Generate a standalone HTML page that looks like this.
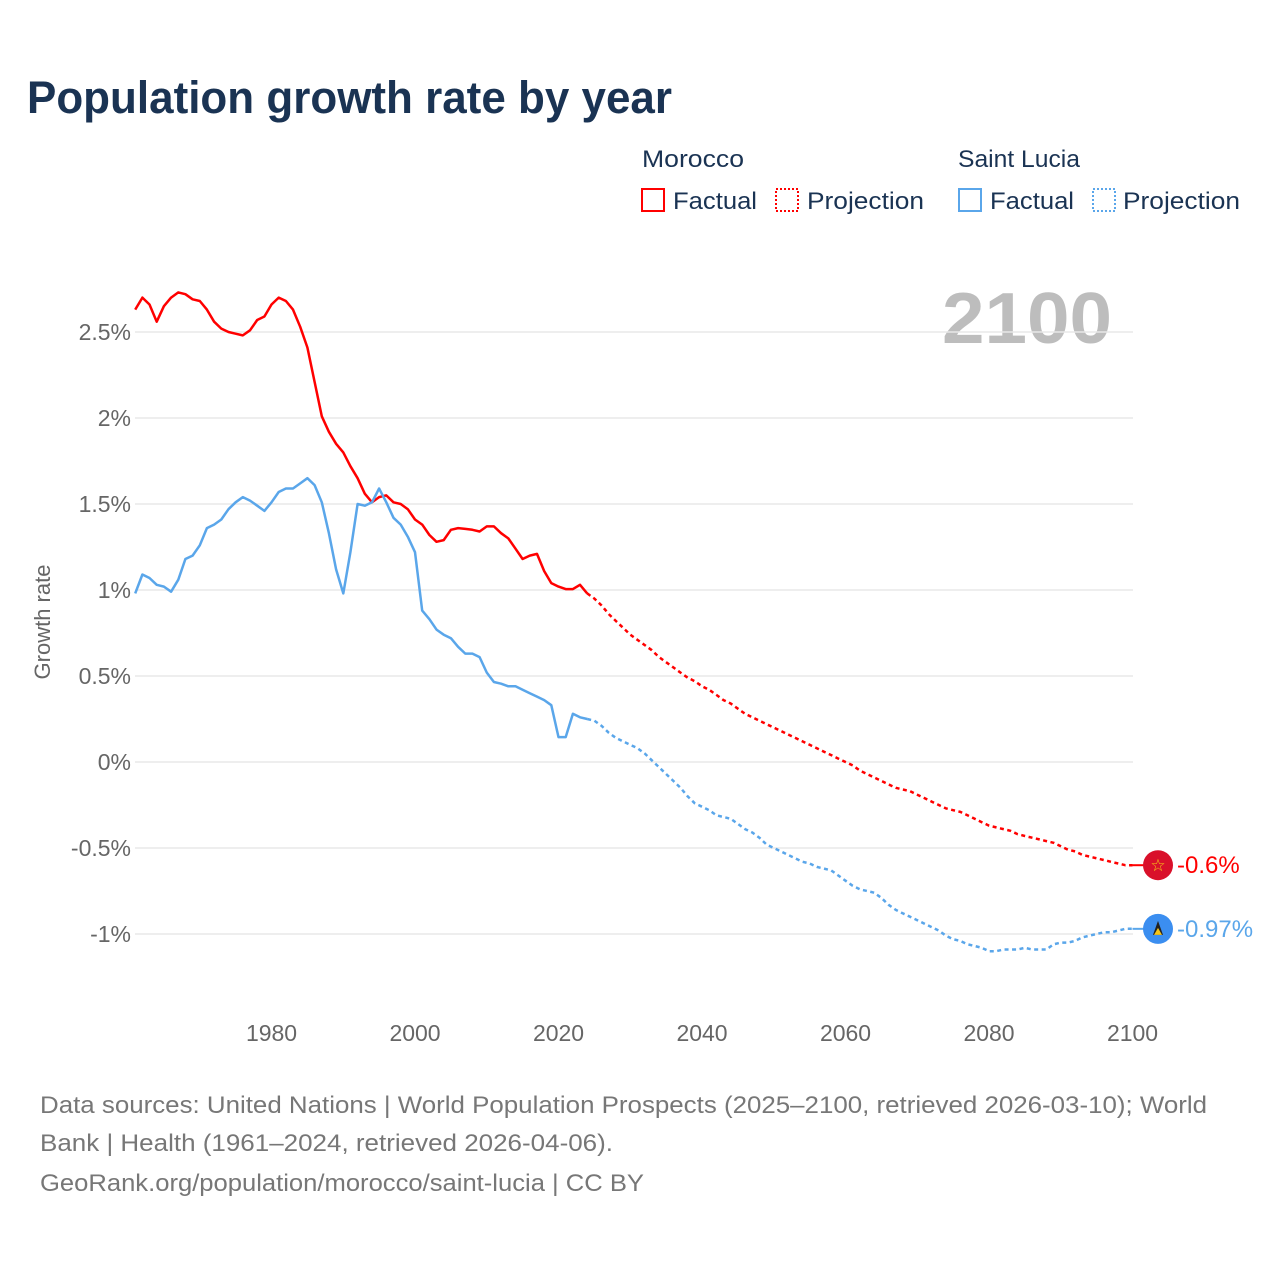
<!DOCTYPE html>
<html><head><meta charset="utf-8"><style>
html,body{margin:0;padding:0;background:#fff;}
svg{display:block;font-family:"Liberation Sans",sans-serif;}
</style></head><body>
<svg id="chart" width="1280" height="1280" viewBox="0 0 1280 1280">
<text x="27" y="113" font-size="45" font-weight="bold" fill="#1a3353" textLength="645" lengthAdjust="spacingAndGlyphs">Population growth rate by year</text>
<g>
<text x="642" y="167" font-size="24" fill="#1a3353" textLength="102" lengthAdjust="spacingAndGlyphs">Morocco</text>
<text x="958" y="167" font-size="24" fill="#1a3353" textLength="122" lengthAdjust="spacingAndGlyphs">Saint Lucia</text>
<g><rect x="642" y="189" width="22" height="22" fill="none" stroke="#f00" stroke-width="2"/><text x="673" y="209" font-size="24" fill="#1a3353" textLength="84" lengthAdjust="spacingAndGlyphs">Factual</text></g>
<g><rect x="776" y="189" width="22" height="22" fill="none" stroke="#f00" stroke-width="2" stroke-dasharray="2,2"/><text x="807" y="209" font-size="24" fill="#1a3353" textLength="117" lengthAdjust="spacingAndGlyphs">Projection</text></g>
<g><rect x="959" y="189" width="22" height="22" fill="none" stroke="#5aa6ea" stroke-width="2"/><text x="990" y="209" font-size="24" fill="#1a3353" textLength="84" lengthAdjust="spacingAndGlyphs">Factual</text></g>
<g><rect x="1093" y="189" width="22" height="22" fill="none" stroke="#5aa6ea" stroke-width="2" stroke-dasharray="2,2"/><text x="1123" y="209" font-size="24" fill="#1a3353" textLength="117" lengthAdjust="spacingAndGlyphs">Projection</text></g>
</g>
<text x="1112" y="343" font-size="72" font-weight="bold" fill="#bdbdbd" text-anchor="end" textLength="170" lengthAdjust="spacingAndGlyphs">2100</text>
<text transform="translate(50,622) rotate(-90)" font-size="22" fill="#666" text-anchor="middle">Growth rate</text>
<g id="grid"></g><g id="yticks"></g><g id="xticks"></g><g id="series"></g>
<g font-size="24" fill="#777">
<text x="40" y="1113" textLength="1167" lengthAdjust="spacingAndGlyphs">Data sources: United Nations | World Population Prospects (2025–2100, retrieved 2026-03-10); World</text>
<text x="40" y="1151" textLength="573" lengthAdjust="spacingAndGlyphs">Bank | Health (1961–2024, retrieved 2026-04-06).</text>
<text x="40" y="1191" textLength="604" lengthAdjust="spacingAndGlyphs">GeoRank.org/population/morocco/saint-lucia | CC BY</text>
</g>
</svg>
<script>
const yTicks=[2.5,2,1.5,1,0.5,0,-0.5,-1];
const yTickLabels=["2.5%","2%","1.5%","1%","0.5%","0%","-0.5%","-1%"];
const xTicks=[1980,2000,2020,2040,2060,2080,2100];
const factualStart=1961;
const projStart=2025;
const moroccoFactual=[2.63,2.70,2.66,2.56,2.65,2.70,2.73,2.72,2.69,2.68,2.63,2.56,2.52,2.50,2.49,2.48,2.51,2.57,2.59,2.66,2.70,2.68,2.63,2.53,2.41,2.21,2.01,1.92,1.85,1.80,1.72,1.65,1.56,1.51,1.54,1.55,1.51,1.50,1.47,1.41,1.38,1.32,1.28,1.29,1.35,1.36,1.355,1.35,1.34,1.37,1.37,1.33,1.30,1.24,1.18,1.20,1.21,1.11,1.04,1.02,1.005,1.005,1.03,0.98];
const moroccoProjection=[0.95,0.91,0.86,0.82,0.78,0.74,0.71,0.68,0.65,0.61,0.58,0.55,0.52,0.49,0.47,0.44,0.42,0.39,0.36,0.34,0.31,0.28,0.26,0.24,0.22,0.20,0.18,0.16,0.14,0.12,0.10,0.08,0.06,0.04,0.02,0.00,-0.02,-0.05,-0.07,-0.09,-0.11,-0.13,-0.15,-0.16,-0.17,-0.19,-0.21,-0.23,-0.25,-0.27,-0.28,-0.29,-0.31,-0.33,-0.35,-0.37,-0.38,-0.39,-0.40,-0.42,-0.43,-0.44,-0.45,-0.46,-0.47,-0.49,-0.51,-0.52,-0.54,-0.55,-0.56,-0.57,-0.58,-0.59,-0.60,-0.60];
const luciaFactual=[0.98,1.09,1.07,1.03,1.02,0.99,1.06,1.18,1.20,1.26,1.36,1.38,1.41,1.47,1.51,1.54,1.52,1.49,1.46,1.51,1.57,1.59,1.59,1.62,1.65,1.61,1.51,1.33,1.12,0.98,1.22,1.50,1.49,1.51,1.59,1.51,1.42,1.38,1.31,1.22,0.88,0.83,0.77,0.74,0.72,0.67,0.63,0.63,0.61,0.52,0.465,0.455,0.44,0.44,0.42,0.40,0.38,0.36,0.33,0.145,0.145,0.28,0.26,0.25];
const luciaProjection=[0.24,0.21,0.17,0.14,0.12,0.10,0.08,0.05,0.01,-0.03,-0.07,-0.11,-0.15,-0.20,-0.24,-0.26,-0.28,-0.31,-0.32,-0.33,-0.36,-0.39,-0.41,-0.44,-0.48,-0.50,-0.52,-0.54,-0.56,-0.58,-0.59,-0.61,-0.62,-0.63,-0.66,-0.69,-0.72,-0.74,-0.75,-0.76,-0.79,-0.83,-0.86,-0.88,-0.90,-0.92,-0.94,-0.96,-0.98,-1.01,-1.03,-1.04,-1.06,-1.07,-1.08,-1.10,-1.10,-1.09,-1.09,-1.09,-1.08,-1.09,-1.09,-1.09,-1.06,-1.05,-1.05,-1.04,-1.02,-1.01,-1.00,-0.99,-0.99,-0.98,-0.97,-0.97];
const endLabels=["-0.6%","-0.97%"];

const NS="http://www.w3.org/2000/svg";
const X=yr=>135.2+(yr-1961)*7.175;
const Y=v=>762-v*172;
function mk(tag,attrs,parent){const e=document.createElementNS(NS,tag);for(const k in attrs)e.setAttribute(k,attrs[k]);parent.appendChild(e);return e;}
const grid=document.getElementById('grid'),yt=document.getElementById('yticks'),xt=document.getElementById('xticks'),ser=document.getElementById('series');
yTicks.forEach((v,i)=>{
  const l=mk('line',{x1:135,x2:1133,y1:Y(v),y2:Y(v),stroke:'#e8e8e8','stroke-width':1.5},grid);
  
  
  const t=mk('text',{x:131,y:Y(v)+8,'font-size':23,fill:'#666','text-anchor':'end'},yt);
  t.textContent=yTickLabels[i];
  
  
});
xTicks.forEach(yr=>{
  const t=mk('text',{x:X(yr),y:1041,'font-size':23,fill:'#666','text-anchor':'middle'},xt);
  t.textContent=yr;
  
  
});
function line(vals,start,color,dash,name,prev){
  let pts=vals.map((v,i)=>X(start+i).toFixed(1)+','+Y(v).toFixed(1));
  if(prev!==undefined)pts.unshift(X(start-1).toFixed(1)+','+Y(prev).toFixed(1));
  const p=mk('polyline',{points:pts.join(' '),fill:'none',stroke:color,'stroke-width':2.5,'stroke-linejoin':'round'},ser);
  if(dash)p.setAttribute('stroke-dasharray','4,3.5');
  
  
}
line(moroccoFactual,factualStart,'#f00',false,'morocco-factual-line');
line(moroccoProjection,projStart,'#f00',true,'morocco-projection-line',moroccoFactual[moroccoFactual.length-1]);
line(luciaFactual,factualStart,'#5aa6ea',false,'saint-lucia-factual-line');
line(luciaProjection,projStart,'#5aa6ea',true,'saint-lucia-projection-line',luciaFactual[luciaFactual.length-1]);
const mEnd=moroccoProjection[moroccoProjection.length-1],lEnd=luciaProjection[luciaProjection.length-1];
const m1=mk('line',{x1:X(2100),x2:1146,y1:Y(mEnd),y2:Y(mEnd),stroke:'#f00','stroke-width':2},ser);


const c1=mk('circle',{cx:1158,cy:Y(mEnd),r:15,fill:'#d9102a'},ser);


const s1=mk('text',{x:1158,y:Y(mEnd)+6,'font-size':17,fill:'#f5c518','text-anchor':'middle'},ser);
s1.textContent='☆';


const t1=mk('text',{x:1177,y:Y(mEnd)+8,'font-size':24,fill:'#f00'},ser);
t1.textContent=endLabels[0];


const m2=mk('line',{x1:X(2100),x2:1146,y1:Y(lEnd),y2:Y(lEnd),stroke:'#5aa6ea','stroke-width':2},ser);


const c2=mk('circle',{cx:1158,cy:Y(lEnd),r:15,fill:'#3b8ef0'},ser);


const cy=Y(lEnd);
const tr=mk('polygon',{points:`1158,${cy-8} 1153,${cy+6} 1163,${cy+6}`,fill:'#222'},ser);


const tr2=mk('polygon',{points:`1158,${cy-1} 1154,${cy+6} 1162,${cy+6}`,fill:'#f5c518'},ser);


const t2=mk('text',{x:1177,y:Y(lEnd)+8,'font-size':24,fill:'#5aa6ea'},ser);
t2.textContent=endLabels[1];


</script>
</body></html>
